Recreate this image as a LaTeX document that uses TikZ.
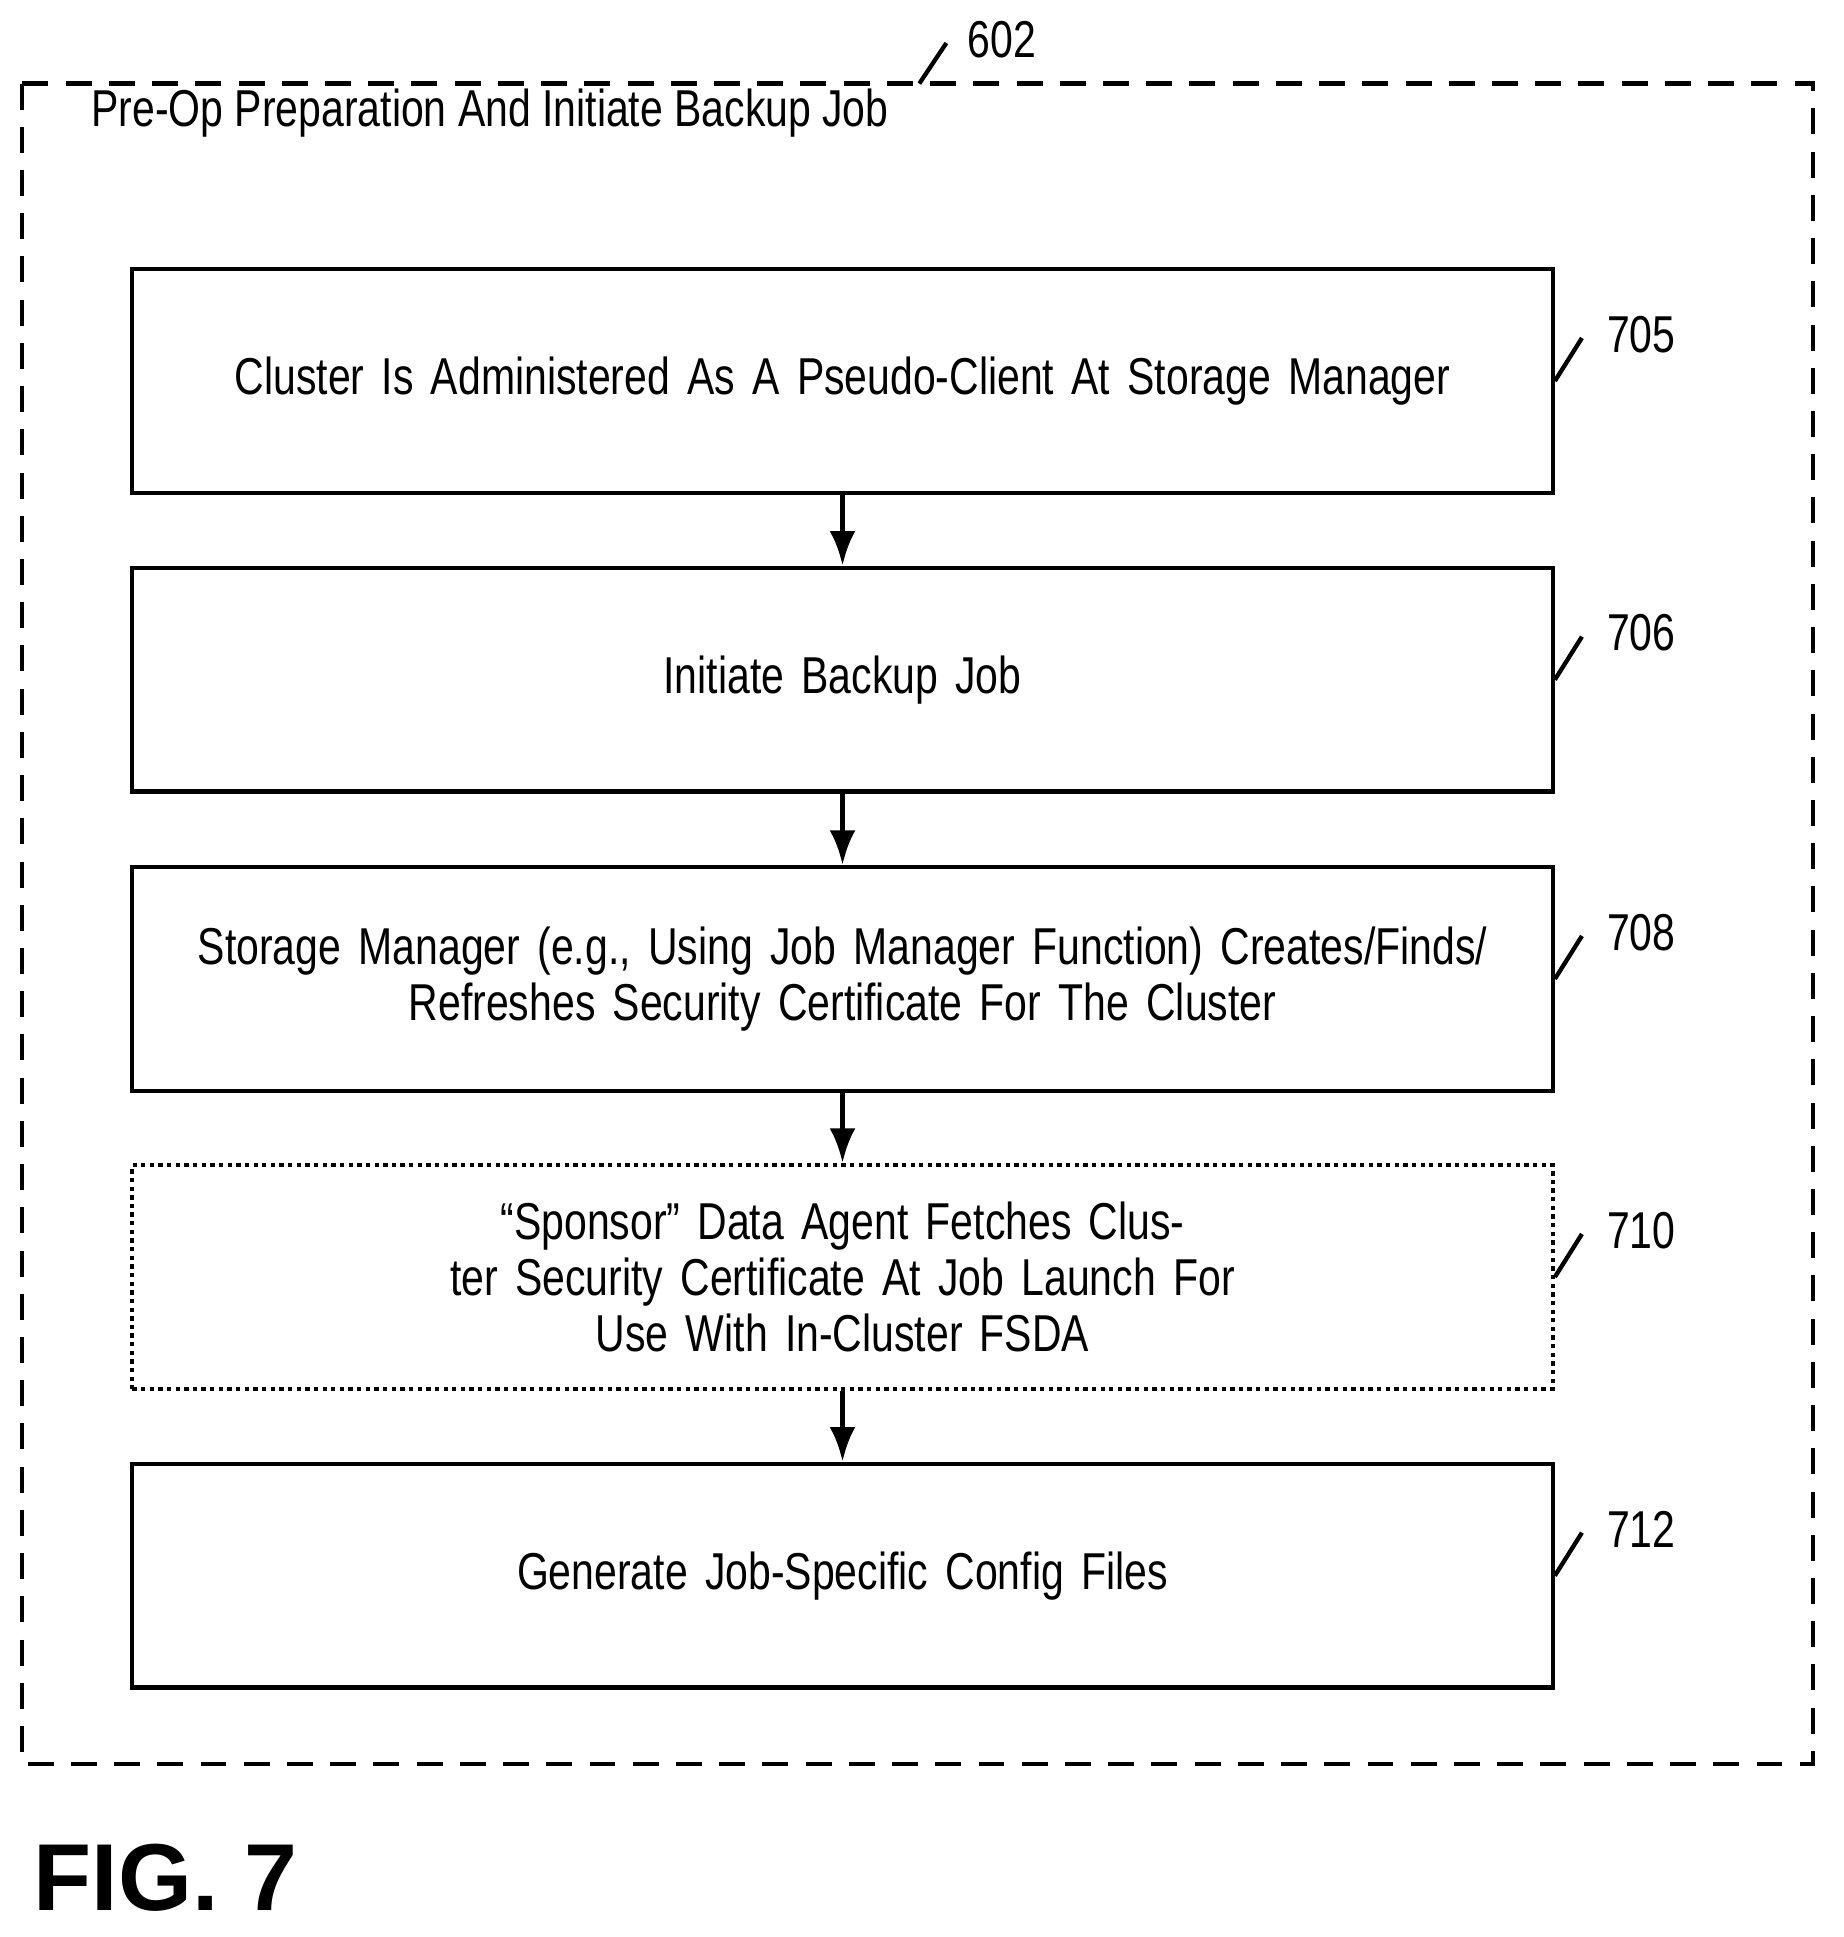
\documentclass[tikz,border=0pt]{standalone}
\usepackage{fontspec}
\setmainfont{Liberation Sans}[FakeStretch=0.79]
\newfontfamily\figfont{Liberation Sans}
\usetikzlibrary{arrows.meta}
\tikzset{
  flowbox/.style={draw,line width=1pt,minimum width=11.55cm,minimum height=1.82cm,text width=11.5cm,align=center,font=\fontsize{12}{13}\selectfont,inner sep=0pt},
  optbox/.style={flowbox,densely dotted},
  ref/.style={font=\fontsize{12}{13}\selectfont,anchor=west},
}
\begin{document}
\begin{tikzpicture}[x=0.01cm,y=-0.01cm,>={Latex[length=8pt,width=6pt]}]
\useasboundingbox (0,0) rectangle (1500,1576);
\draw[dash pattern=on 6pt off 4pt,line width=1pt] (18,68) rectangle (1475,1435);
\node[ref] (lab602) at (775,32) {602};
\coordinate (t602) at (748,68);
\draw[line width=1pt] (t602) -- (770,35);
\node[anchor=west,font=\fontsize{12}{13}\selectfont] (title) at (62,92) {Pre-Op Preparation And Initiate Backup Job};

\node[flowbox] (705) at (685.5,310) {Cluster Is Administered As A Pseudo-Client At Storage Manager};
\node[flowbox] (706) at (685.5,553) {Initiate Backup Job};
\node[flowbox] (708) at (685.5,796.5) {Storage Manager (e.g., Using Job Manager Function) Creates/Finds/\\Refreshes Security Certificate For The Cluster};
\node[optbox] (710) at (685.5,1039) {“Sponsor” Data Agent Fetches Cluster Security Certificate At Job Launch For\\Use With In-Cluster FSDA};
\node[flowbox] (712) at (685.5,1282) {Generate Job-Specific Config Files};

\foreach \a/\b in {705/706,706/708,708/710,710/712}
  \draw[->,line width=1.2pt] (\a) -- (\b);

\foreach \n in {705,706,708,710,712}{
  \draw[line width=1pt] (\n.east) -- ++(22,-35);
  \node[ref] at ([xshift=0.3cm,yshift=0.38cm]\n.east) {\n};
}
\node[anchor=west,font=\figfont\bfseries\fontsize{22}{24}\selectfont] (fig) at (15,1528) {FIG. 7};
\end{tikzpicture}
\end{document}
